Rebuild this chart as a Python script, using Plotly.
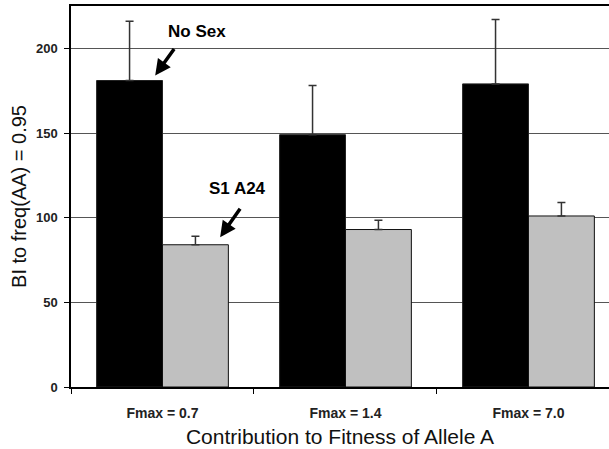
import plotly.graph_objects as go

categories = ["Fmax = 0.7", "Fmax = 1.4", "Fmax = 7.0"]
no_sex = [181, 149, 179]
no_sex_err = [35, 29, 38]
s1_a24 = [84, 93, 101]
s1_a24_err = [5, 5.5, 8]

FONT = "Arial, Liberation Sans, sans-serif"

fig = go.Figure()
fig.add_trace(go.Bar(
    x=categories, y=no_sex, name="No Sex",
    marker=dict(color="#000000", line=dict(color="#222222", width=1)),
    error_y=dict(type="data", array=no_sex_err, symmetric=False, arrayminus=[0, 0, 0],
                 color="#333333", thickness=1.5, width=4),
))
fig.add_trace(go.Bar(
    x=categories, y=s1_a24, name="S1 A24",
    marker=dict(color="#c0c0c0", line=dict(color="#111111", width=1)),
    error_y=dict(type="data", array=s1_a24_err, symmetric=False, arrayminus=[0, 0, 0],
                 color="#333333", thickness=1.5, width=4),
))

bold = dict(family=FONT, size=17, color="#000000")
arrow_style = dict(showarrow=True, arrowhead=2, arrowsize=0.9, arrowwidth=3.5,
                   arrowcolor="#000000", text="", axref="pixel", ayref="pixel")

annotations = [
    # "No Sex" label and pointer to the first black bar
    dict(x=0.19, y=210, text="<b>No Sex</b>", showarrow=False, font=bold),
    dict(x=-0.04, y=184, ax=20, ay=-28, **arrow_style),
    # "S1 A24" label and pointer to the first grey bar
    dict(x=0.41, y=117, text="<b>S1 A24</b>", showarrow=False, font=bold),
    dict(x=0.315, y=88.5, ax=21, ay=-30, **arrow_style),
]

fig.update_layout(
    width=609, height=449,
    margin=dict(l=71, r=0, t=6, b=62),
    paper_bgcolor="#ffffff", plot_bgcolor="#ffffff",
    barmode="group", bargap=0.28, bargroupgap=0,
    showlegend=False,
    annotations=annotations,
    font=dict(family=FONT, color="#000000"),
)
fig.update_xaxes(
    type="category", range=[-0.5, 2.44],
    tickson="boundaries", ticks="outside", ticklen=5, tickcolor="#000000",
    showline=True, linecolor="#000000", linewidth=1.5, mirror=True,
    showgrid=False,
    tickfont=dict(size=14, family=FONT, color="#222222", weight="bold"),
    ticklabelstandoff=12,
    title=dict(text="Contribution to Fitness of Allele A",
               font=dict(size=21, family=FONT, color="#111111"), standoff=10),
)
fig.update_yaxes(
    range=[0, 225], tickvals=[0, 50, 100, 150, 200],
    ticks="outside", ticklen=5, tickcolor="#000000",
    showline=True, linecolor="#000000", linewidth=1.5,
    showgrid=True, gridcolor="#555555", gridwidth=1.2,
    zeroline=False,
    tickfont=dict(size=13, family=FONT, color="#222222", weight="bold"),
    ticklabelstandoff=4,
    title=dict(text="BI to freq(AA) = 0.95", font=dict(size=20, family=FONT, color="#111111"),
               standoff=4),
)

fig.write_html("out.html")
